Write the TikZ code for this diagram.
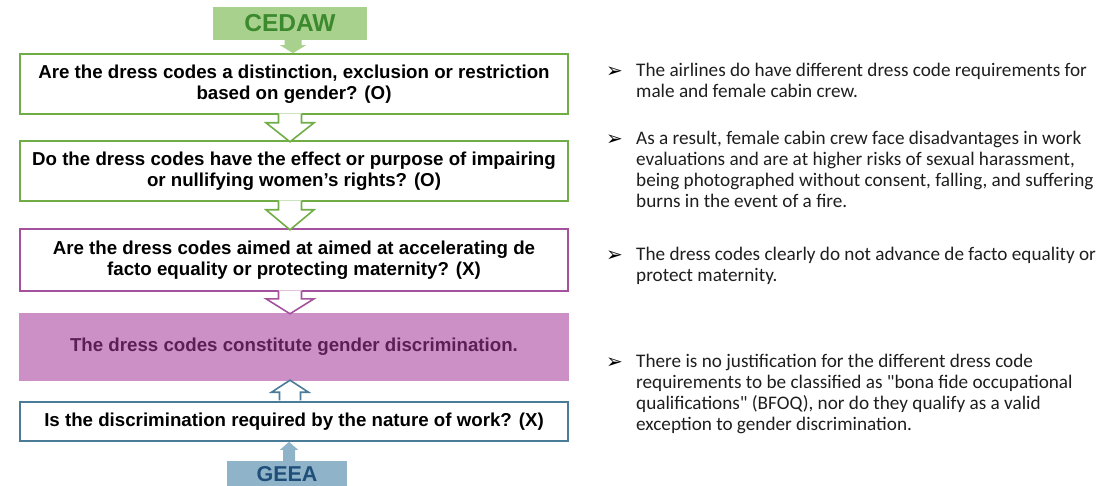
\documentclass[tikz,border=0pt]{standalone}
\usepackage{fontspec}
\setmainfont{Liberation Sans}
\newfontfamily\calib{Carlito}
\newfontfamily\djv{DejaVu Sans}
\definecolor{grn}{HTML}{70AD47}
\definecolor{grnfill}{HTML}{A9D18E}
\definecolor{grntext}{HTML}{3C8A2E}
\definecolor{pur}{HTML}{A4519E}
\definecolor{purfill}{HTML}{CC90C6}
\definecolor{purtext}{HTML}{5C1F55}
\definecolor{blu}{HTML}{4A7C98}
\definecolor{blufill}{HTML}{8FB4CA}
\definecolor{blutext}{HTML}{1F4E79}
\definecolor{rtext}{HTML}{1E1E1E}
\tikzset{
  qbox/.style={draw, line width=1.6pt, fill=white, minimum width=548pt, inner sep=0pt,
    align=center, text=black, font=\bfseries\fontsize{18.7}{20.5}\selectfont},
  lawbox/.style={inner sep=0pt, font=\bfseries\fontsize{24.5}{26}\selectfont},
  rt/.style={anchor=base west, inner sep=0pt, text=rtext, font=\calib\fontsize{19.2}{21}\selectfont},
  bul/.style={anchor=base west, inner sep=0pt, text=black, font=\djv\fontsize{20}{22}\selectfont},
  pics/hdown/.style args={#1/#2/#3/#4}{code={
    \fill[white] (-#3,-1.5) -- (-#3,#1) -- (-#4,#1) -- (0,#2) -- (#4,#1) -- (#3,#1) -- (#3,-1.5) -- cycle;
    \draw[pic actions, line join=miter] (-#3,-0.8) -- (-#3,#1) -- (-#4,#1) -- (0,#2) -- (#4,#1) -- (#3,#1) -- (#3,-0.8);
  }},
  pics/sarrow/.style args={#1/#2/#3/#4}{code={
    \fill[pic actions] (-#3,0) -- (-#3,#1) -- (-#4,#1) -- (0,#2) -- (#4,#1) -- (#3,#1) -- (#3,0) -- cycle;
  }}
}
\begin{document}
\begin{tikzpicture}[x=1pt,y=-1pt]
\useasboundingbox (0,0) rectangle (1099,486);
% law boxes
\node[lawbox, fill=grnfill, text=grntext, minimum width=154pt, minimum height=33pt] (cedaw) at (290,23.5) {CEDAW};
\node[lawbox, fill=blufill, text=blutext, minimum width=120pt, minimum height=27pt, font=\bfseries\fontsize{21.5}{24}\selectfont] (geea) at (287,474.5) {GEEA};
% question boxes
\node[qbox, draw=grn, minimum height=60pt] (q1) at (294,84) {Are the dress codes a distinction, exclusion or restriction\\based on gender? (O)};
\node[qbox, draw=grn, minimum height=60pt] (q2) at (294,171) {Do the dress codes have the effect or purpose of impairing\\or nullifying women’s rights? (O)};
\node[qbox, draw=pur, minimum height=62pt] (q3) at (294,260) {Are the dress codes aimed at aimed at accelerating de\\facto equality or protecting maternity? (X)};
\node[qbox, draw=none, fill=purfill, text=purtext, minimum height=68pt, minimum width=549.6pt] (res) at (294,347) {The dress codes constitute gender discrimination.};
\node[qbox, draw=blu, minimum height=39pt] (q4) at (294,421.5) {Is the discrimination required by the nature of work? (X)};
\coordinate (ax) at (290,0);
\coordinate (axc) at (293,0);
\coordinate (axg) at (289,0);
% arrows
\pic[fill=grnfill] at (cedaw.south -| axc) {sarrow={5/13/8.5/13}};
\pic[draw=grn, line width=1.6pt] at (q1.south -| ax) {hdown={8/27/11.5/24}};
\pic[draw=grn, line width=1.6pt] at (q2.south -| ax) {hdown={8/28/11.5/24}};
\pic[draw=pur, line width=1.6pt] at (q3.south -| ax) {hdown={7/22/11.5/24}};
\pic[draw=blu, line width=1.6pt] at (q4.north -| ax) {hdown={-9/-21/10.5/18.5}};
\pic[fill=blufill] at (geea.north -| axg) {sarrow={-11/-19/6/9}};
% right side text
\node[bul] (u1) at (606,78) {➢};
\node[rt] (t1a) at (636,77) {The airlines do have different dress code requirements for};
\node[rt] (t1b) at (636,98) {male and female cabin crew.};
\node[bul] (u2) at (606,146) {➢};
\node[rt] (t2a) at (636,145) {As a result, female cabin crew face disadvantages in work};
\node[rt] (t2b) at (636,166) {evaluations and are at higher risks of sexual harassment,};
\node[rt] (t2c) at (636,187) {being photographed without consent, falling, and suffering};
\node[rt] (t2d) at (636,208) {burns in the event of a fire.};
\node[bul] (u3) at (606,261) {➢};
\node[rt] (t3a) at (636,260) {The dress codes clearly do not advance de facto equality or};
\node[rt] (t3b) at (636,281) {protect maternity.};
\node[bul] (u4) at (606,368) {➢};
\node[rt] (t4a) at (636,367) {There is no justification for the different dress code};
\node[rt] (t4b) at (636,388) {requirements to be classified as "bona fide occupational};
\node[rt] (t4c) at (636,409) {qualifications" (BFOQ), nor do they qualify as a valid};
\node[rt] (t4d) at (636,430) {exception to gender discrimination.};
\end{tikzpicture}
\end{document}
